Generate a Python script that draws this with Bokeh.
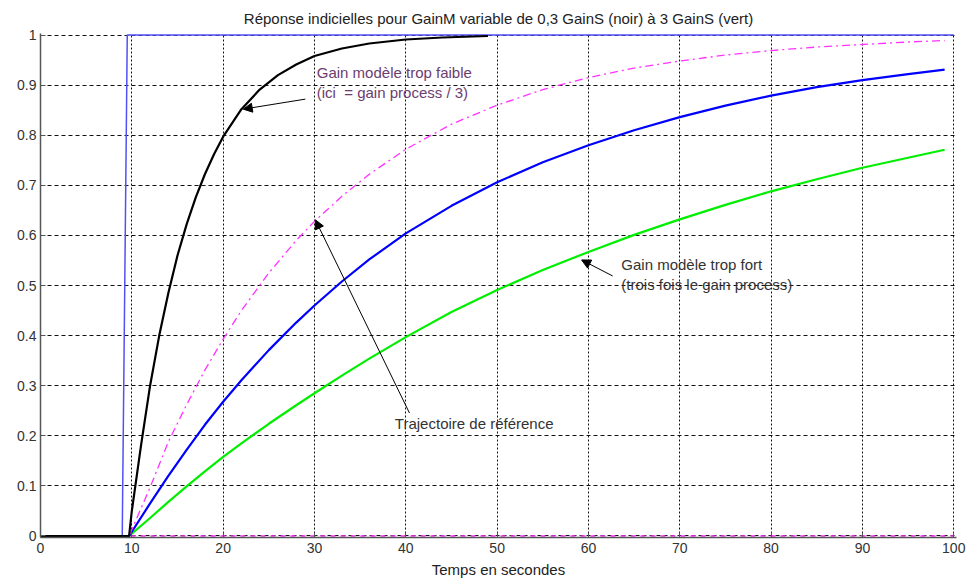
from bokeh.plotting import figure
from bokeh.models import (Range1d, FixedTicker, CustomJSTickFormatter, Label,
                          Arrow, NormalHead)
from bokeh.embed import file_html
from bokeh.resources import INLINE

FONT = "Liberation Sans"

# Consigne (échelon unitaire)
t_step = [0, 8.95, 9.5, 100]
y_step = [0, 0, 1, 1]

# Réponse avec GainM = 0,3 GainS (noir)
t_black = [0, 9.7, 10, 11, 12, 13, 14, 15, 16, 17, 18, 19, 20, 22, 24, 26,
           28, 30, 33, 36, 40, 44, 49]
y_black = [0, 0, 0.05, 0.18, 0.30, 0.40, 0.485, 0.56, 0.622, 0.676, 0.722,
           0.762, 0.797, 0.852, 0.891, 0.920, 0.941, 0.958, 0.973, 0.983,
           0.991, 0.995, 0.998]

# Instants communs aux autres réponses
t_sim = [0, 9.7, 12, 14, 16, 18, 20, 22, 25, 28, 30, 33, 36, 40, 45, 50, 55,
         60, 65, 70, 75, 80, 85, 90, 95, 99]

# Trajectoire de référence (magenta)
y_ref = [0, 0, 0.097, 0.188, 0.262, 0.331, 0.393, 0.450, 0.525, 0.590, 0.628,
         0.678, 0.722, 0.772, 0.822, 0.860, 0.891, 0.915, 0.934, 0.948, 0.960,
         0.969, 0.976, 0.981, 0.986, 0.989]

# Réponse intermédiaire (bleu)
y_blue = [0, 0, 0.065, 0.120, 0.172, 0.222, 0.268, 0.311, 0.371, 0.426, 0.460,
          0.508, 0.552, 0.604, 0.659, 0.706, 0.746, 0.780, 0.810, 0.836, 0.859,
          0.879, 0.896, 0.910, 0.922, 0.931]

# Réponse avec GainM = 3 GainS (vert)
y_green = [0, 0, 0.036, 0.068, 0.099, 0.129, 0.158, 0.185, 0.224, 0.261,
           0.285, 0.320, 0.354, 0.397, 0.447, 0.491, 0.531, 0.567, 0.601,
           0.632, 0.661, 0.688, 0.712, 0.735, 0.755, 0.771]

# Sortie de la référence avant l'échelon, restée à zéro
t_zero = [0, 100]
y_zero = [0, 0]

x_ticks = [0, 10, 20, 30, 40, 50, 60, 70, 80, 90, 100]
y_ticks = [0, 0.1, 0.2, 0.3, 0.4, 0.5, 0.6, 0.7, 0.8, 0.9, 1]
y_tick_labels = ["0", "0.1", "0.2", "0.3", "0.4", "0.5", "0.6", "0.7", "0.8",
                 "0.9", "1"]

title = "Réponse indicielles pour GainM variable de 0,3 GainS (noir) à 3 GainS (vert)"

p = figure(width=967, height=581, output_backend="svg", toolbar_location=None,
           x_range=Range1d(0, 100.3), y_range=Range1d(-0.003, 1.003),
           min_border_left=40, min_border_right=11, min_border_top=33,
           min_border_bottom=44)
p.outline_line_color = None
p.background_fill_color = "white"
p.border_fill_color = "white"

p.title.text = title
p.title.align = "center"
p.title.text_font = FONT
p.title.text_font_size = "15px"
p.title.text_font_style = "normal"
p.title.text_color = "#222222"
p.title.standoff = 14

# Axes
for ax in (p.xaxis, p.yaxis):
    ax.axis_line_color = "#555555"
    ax.axis_line_width = 1.5
    ax.major_tick_line_color = "#555555"
    ax.major_tick_in = 5
    ax.major_tick_out = 0
    ax.minor_tick_line_color = None
    ax.major_label_text_font = FONT
    ax.major_label_text_font_size = "14px"
    ax.major_label_text_color = "#333333"

p.xaxis.ticker = FixedTicker(ticks=x_ticks)
p.yaxis.ticker = FixedTicker(ticks=y_ticks)
p.yaxis.formatter = CustomJSTickFormatter(
    args=dict(tick_values=y_ticks, tick_labels=y_tick_labels),
    code="""
    let best = 0;
    for (let i = 0; i < tick_values.length; i++) {
        if (Math.abs(tick_values[i] - tick) < Math.abs(tick_values[best] - tick)) best = i;
    }
    return tick_labels[best];
    """)
p.xaxis.major_label_standoff = 5
p.yaxis.major_label_standoff = 4
p.xaxis.axis_label = "Temps en secondes"
p.xaxis.axis_label_text_font = FONT
p.xaxis.axis_label_text_font_size = "15px"
p.xaxis.axis_label_text_font_style = "normal"
p.xaxis.axis_label_text_color = "#222222"
p.xaxis.axis_label_standoff = 5

# Grille pointillée
p.xgrid.grid_line_color = "#111111"
p.xgrid.grid_line_dash = "2 2"
p.xgrid.grid_line_width = 1
p.ygrid.grid_line_color = "#111111"
p.ygrid.grid_line_dash = "4 3"
p.ygrid.grid_line_width = 1
p.xgrid.ticker = FixedTicker(ticks=x_ticks)
p.ygrid.ticker = FixedTicker(ticks=y_ticks)

# Courbes
p.line(t_zero, y_zero, line_color="#ff33ff", line_width=1.5, line_dash="5 5")
p.line(t_step, y_step, line_color="#5050f5", line_width=1.5)
p.line(t_sim, y_green, line_color="#00ee00", line_width=2.2)
p.line(t_sim, y_blue, line_color="#0000ff", line_width=2.2)
p.line(t_sim, y_ref, line_color="#ff33ff", line_width=1.3, line_dash="8 4 2 4")
p.line(t_black, y_black, line_color="black", line_width=2.2)

# Annotations
purple = "#6b3d70"
for txt, yy in (("Gain modèle trop faible", 0.926),
                ("(ici\u00a0 = gain process / 3)", 0.886)):
    p.add_layout(Label(x=30.25, y=yy, text=txt, text_font=FONT,
                       text_font_size="15px", text_color=purple,
                       text_baseline="middle"))
for txt, yy in (("Gain modèle trop fort", 0.542), ("(trois fois le gain process)", 0.502)):
    p.add_layout(Label(x=63.6, y=yy, text=txt, text_font=FONT,
                       text_font_size="15px", text_color="#333333",
                       text_baseline="middle"))
p.add_layout(Label(x=38.8, y=0.224, text="Trajectoire de référence",
                   text_font=FONT, text_font_size="15px", text_color="#333333",
                   text_baseline="middle"))


def head():
    return NormalHead(size=9, fill_color="black", line_color="black")


p.add_layout(Arrow(x_start=29.0, y_start=0.872, x_end=22.2, y_end=0.852,
                   end=head(), line_color="black", line_width=1))
p.add_layout(Arrow(x_start=62.65, y_start=0.519, x_end=59.25, y_end=0.551,
                   end=head(), line_color="black", line_width=1))
p.add_layout(Arrow(x_start=40.4, y_start=0.2455, x_end=30.1, y_end=0.631,
                   end=head(), line_color="black", line_width=1))

open("out.html", "w").write(file_html(p, INLINE))
